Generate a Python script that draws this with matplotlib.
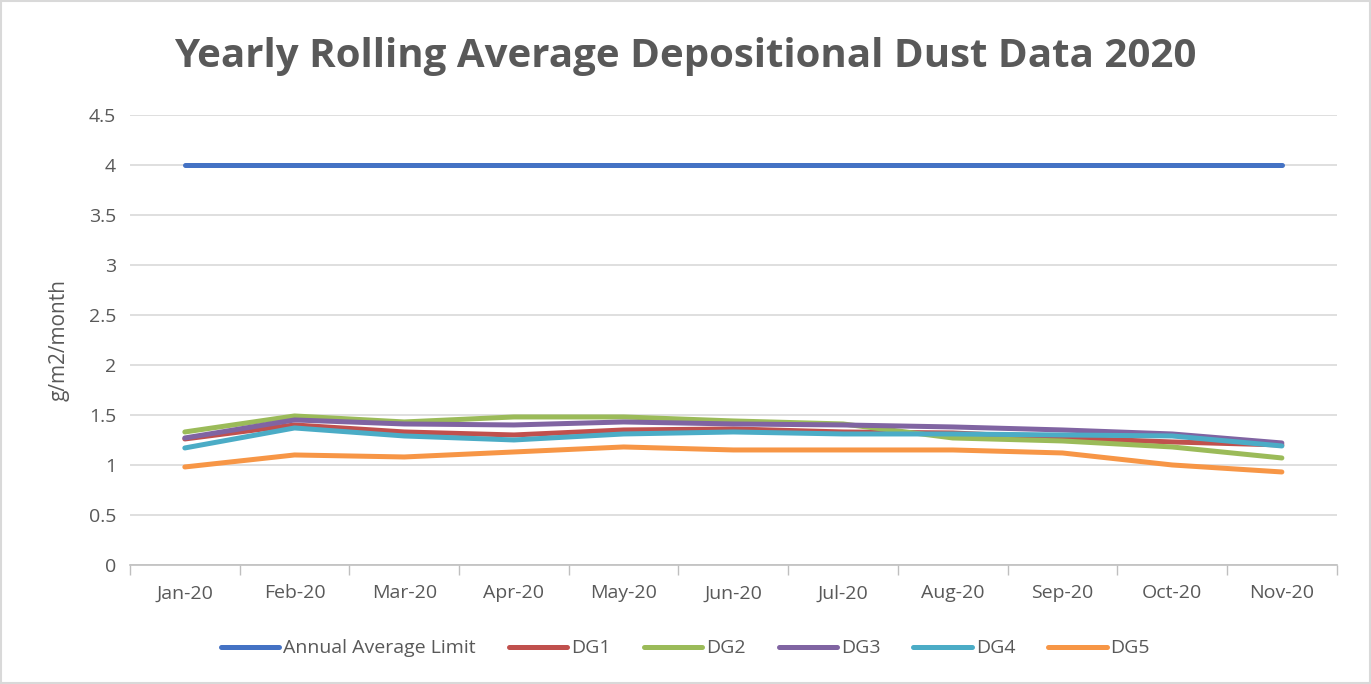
import matplotlib
matplotlib.use("Agg")
import matplotlib.pyplot as plt
from matplotlib.patches import Rectangle

plt.rcParams['font.family'] = ['Open Sans', 'DejaVu Sans']

months = ["Jan-20", "Feb-20", "Mar-20", "Apr-20", "May-20", "Jun-20",
          "Jul-20", "Aug-20", "Sep-20", "Oct-20", "Nov-20"]
limit = [4, 4, 4, 4, 4, 4, 4, 4, 4, 4, 4]
dg1 = [1.26, 1.40, 1.33, 1.30, 1.35, 1.36, 1.33, 1.32, 1.27, 1.23, 1.20]
dg2 = [1.33, 1.49, 1.43, 1.48, 1.48, 1.44, 1.41, 1.27, 1.24, 1.18, 1.07]
dg3 = [1.27, 1.45, 1.41, 1.40, 1.43, 1.41, 1.40, 1.38, 1.35, 1.31, 1.22]
dg4 = [1.17, 1.37, 1.29, 1.25, 1.31, 1.33, 1.31, 1.31, 1.30, 1.29, 1.19]
dg5 = [0.98, 1.10, 1.08, 1.13, 1.18, 1.15, 1.15, 1.15, 1.12, 1.00, 0.93]

series = [("Annual Average Limit", limit, "#4472C4"),
          ("DG1", dg1, "#C0504D"),
          ("DG2", dg2, "#9BBB59"),
          ("DG3", dg3, "#8064A2"),
          ("DG4", dg4, "#4BACC6"),
          ("DG5", dg5, "#F79646")]

fig = plt.figure(figsize=(13.71, 6.84), dpi=100)
ax = fig.add_axes([0.0948, 0.174, 0.8802, 0.658])

x = list(range(len(months)))
for name, vals, color in series:
    ax.plot(x, vals, color=color, lw=3.6, solid_capstyle='round', label=name)

ax.set_xlim(-0.5, len(months) - 0.5)
ax.set_ylim(0, 4.5)
ax.set_yticks([0, 0.5, 1, 1.5, 2, 2.5, 3, 3.5, 4, 4.5])
ax.set_yticklabels(["0", "0.5", "1", "1.5", "2", "2.5", "3", "3.5", "4", "4.5"])
ax.set_xticks(x)
ax.set_xticklabels(months)
ax.set_xticks([i - 0.5 for i in range(len(months) + 1)], minor=True)
ax.tick_params(axis='x', which='major', length=0, pad=14, labelsize=14, labelcolor='#595959')
ax.tick_params(axis='x', which='minor', length=7, color='#bfbfbf', width=1)
ax.tick_params(axis='y', length=0, pad=10, labelsize=14, labelcolor='#595959')
ax.grid(axis='y', color='#d9d9d9', lw=1.2)
ax.set_axisbelow(True)
for s in ['top', 'right', 'left']:
    ax.spines[s].set_visible(False)
ax.spines['bottom'].set_color('#bfbfbf')
ax.spines['bottom'].set_linewidth(1.2)

ax.set_ylabel("g/m2/month", fontsize=15, color='#595959', labelpad=14)

fig.text(0.5, 0.918, "Yearly Rolling Average Depositional Dust Data 2020",
         ha='center', va='center', fontsize=29, fontweight='bold', color='#595959')

fig.legend(loc='center', bbox_to_anchor=(0.5, 0.052), ncol=6, frameon=False,
           fontsize=14, handlelength=3.0, handletextpad=0.2, columnspacing=1.7,
           labelcolor='#595959')

fig.patches.append(Rectangle((0.001, 0.001), 0.998, 0.997, transform=fig.transFigure,
                             fill=False, edgecolor='#d9d9d9', lw=1.5))

fig.savefig("out.png", dpi=100)
